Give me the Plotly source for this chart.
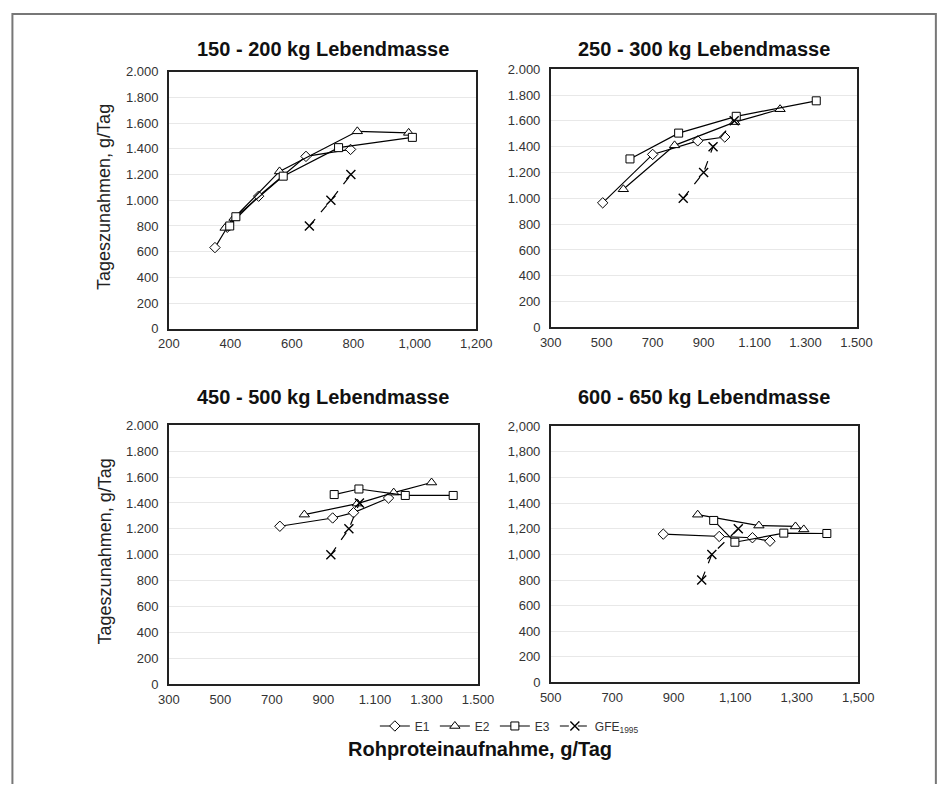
import plotly.graph_objects as go

# ---------------- data ----------------
titles = ["150 - 200 kg Lebendmasse", "250 - 300 kg Lebendmasse",
          "450 - 500 kg Lebendmasse", "600 - 650 kg Lebendmasse"]

# panel 1
p1_e1_x = [350, 390, 492, 646, 791]
p1_e1_y = [632, 790, 1032, 1342, 1396]
p1_e2_x = [383, 412, 560, 813, 980]
p1_e2_y = [785, 862, 1225, 1537, 1525]
p1_e3_x = [398, 418, 572, 752, 992]
p1_e3_y = [800, 872, 1188, 1410, 1490]
p1_gfe_x = [657, 727, 792]
p1_gfe_y = [800, 1000, 1200]

# panel 2
p2_e1_x = [504, 700, 877, 983]
p2_e1_y = [965, 1340, 1445, 1475]
p2_e2_x = [585, 786, 1022, 1200]
p2_e2_y = [1070, 1410, 1590, 1690]
p2_e3_x = [611, 802, 1028, 1342]
p2_e3_y = [1305, 1505, 1635, 1755]
p2_gfe_x = [820, 900, 937, 1020]
p2_gfe_y = [1000, 1200, 1400, 1600]

# panel 3
p3_e1_x = [731, 936, 1017, 1153]
p3_e1_y = [1220, 1284, 1325, 1438]
p3_e2_x = [826, 1032, 1173, 1320]
p3_e2_y = [1310, 1395, 1480, 1558]
p3_e3_x = [942, 1038, 1218, 1404]
p3_e3_y = [1465, 1508, 1458, 1458]
p3_gfe_x = [929, 999, 1040]
p3_gfe_y = [1000, 1200, 1400]

# panel 4
p4_e1_x = [866, 1048, 1156, 1213]
p4_e1_y = [1158, 1140, 1130, 1103]
p4_e2_x = [978, 1177, 1296, 1323]
p4_e2_y = [1310, 1225, 1218, 1195]
p4_e3_x = [1030, 1099, 1258, 1398]
p4_e3_y = [1265, 1095, 1166, 1163]
p4_gfe_x = [991, 1024, 1110]
p4_gfe_y = [800, 1000, 1200]

# ticks
y_vals = [0, 200, 400, 600, 800, 1000, 1200, 1400, 1600, 1800, 2000]
y_text_dot = ["0", "200", "400", "600", "800", "1.000", "1.200", "1.400", "1.600", "1.800", "2.000"]
y_text_comma = ["0", "200", "400", "600", "800", "1,000", "1,200", "1,400", "1,600", "1,800", "2,000"]
x1_vals = [200, 400, 600, 800, 1000, 1200]
x1_text = ["200", "400", "600", "800", "1,000", "1,200"]
x23_vals = [300, 500, 700, 900, 1100, 1300, 1500]
x23_text = ["300", "500", "700", "900", "1.100", "1.300", "1.500"]
x4_vals = [500, 700, 900, 1100, 1300, 1500]
x4_text = ["500", "700", "900", "1,100", "1,300", "1,500"]

series_names = ["E1", "E2", "E3", "GFE<sub>1995</sub>"]

# ---------------- figure ----------------
OFF = 8
W, H = 949 - 2 * OFF, 792 - 2 * OFF
FONT = "Liberation Sans, Arial, sans-serif"
TICK = 13


def fx(T):
    X = (T - 7.8) / 0.979
    return (X - OFF) / W


def fy(T):
    Y = (T - 5.0) / 0.985
    return 1 - (Y - OFF) / H


fig = go.Figure()

panels = [
    dict(data=[(p1_e1_x, p1_e1_y), (p1_e2_x, p1_e2_y), (p1_e3_x, p1_e3_y), (p1_gfe_x, p1_gfe_y)],
         xr=[200, 1200], xv=x1_vals, xt=x1_text, yt=y_text_dot,
         px=(166.7, 476.7), py=(70, 328), ty=47),
    dict(data=[(p2_e1_x, p2_e1_y), (p2_e2_x, p2_e2_y), (p2_e3_x, p2_e3_y), (p2_gfe_x, p2_gfe_y)],
         xr=[300, 1500], xv=x23_vals, xt=x23_text, yt=y_text_dot,
         px=(551.7, 860), py=(67.3, 326.7), ty=47),
    dict(data=[(p3_e1_x, p3_e1_y), (p3_e2_x, p3_e2_y), (p3_e3_x, p3_e3_y), (p3_gfe_x, p3_gfe_y)],
         xr=[300, 1500], xv=x23_vals, xt=x23_text, yt=y_text_dot,
         px=(166.7, 478.3), py=(425, 685), ty=397),
    dict(data=[(p4_e1_x, p4_e1_y), (p4_e2_x, p4_e2_y), (p4_e3_x, p4_e3_y), (p4_gfe_x, p4_gfe_y)],
         xr=[500, 1500], xv=x4_vals, xt=x4_text, yt=y_text_comma,
         px=(551.7, 861.7), py=(426, 683.3), ty=397),
]

symbols = ["diamond", "triangle-up", "square", "x-thin"]
sizes = [8, 9, 8, 9]

for i, p in enumerate(panels):
    n = "" if i == 0 else str(i + 1)
    for s, (xs, ys) in enumerate(p["data"]):
        is_gfe = s == 3
        marker = dict(symbol=symbols[s], size=sizes[s], color="white",
                      line=dict(color="black", width=1))
        if is_gfe:
            marker = dict(symbol="x-thin", size=9, color="black",
                          line=dict(color="black", width=1.4))
        fig.add_trace(go.Scatter(
            x=xs, y=ys, mode="lines+markers", name=series_names[s],
            xaxis="x" + n, yaxis="y" + n, showlegend=(i == 0),
            line=dict(color="black", width=1.2, dash="dash" if is_gfe else "solid"),
            marker=marker))
    x0, x1 = p["px"]
    y0, y1 = p["py"]
    xa = dict(domain=[fx(x0), fx(x1)], range=p["xr"], tickvals=p["xv"], ticktext=p["xt"],
              showgrid=False, zeroline=False, showline=True, mirror=True,
              linecolor="#222", linewidth=1.5, ticks="", anchor="y" + n,
              ticklabelstandoff=2,
              tickfont=dict(family=FONT, size=TICK, color="#333"))
    ya = dict(domain=[fy(y1), fy(y0)], range=[0, 2000], tickvals=y_vals, ticktext=p["yt"],
              showgrid=True, gridcolor="#e8e8e8", gridwidth=1, zeroline=False,
              showline=True, mirror=True, linecolor="#222", linewidth=1.5, ticks="",
              anchor="x" + n, ticklabelstandoff=6,
              tickfont=dict(family=FONT, size=TICK, color="#333"))
    fig.layout["xaxis" + n] = xa
    fig.layout["yaxis" + n] = ya
    fig.add_annotation(text="<b>" + titles[i] + "</b>", xref="paper", yref="paper",
                       x=fx((x0 + x1) / 2), y=fy(p["ty"]), xanchor="center", yanchor="middle",
                       showarrow=False, font=dict(family=FONT, size=20, color="#111"))
    if i in (0, 2):
        fig.add_annotation(text="Tageszunahmen, g/Tag", xref="paper", yref="paper",
                           x=fx(102), y=fy((y0 + y1) / 2 - 3), xanchor="center", yanchor="middle",
                           textangle=-90, showarrow=False,
                           font=dict(family=FONT, size=18, color="#222"))

fig.add_annotation(text="<b>Rohproteinaufnahme, g/Tag</b>", xref="paper", yref="paper",
                   x=fx(480), y=fy(750), xanchor="center", yanchor="middle", showarrow=False,
                   font=dict(family=FONT, size=20, color="#111"))

fig.add_shape(type="rect", xref="paper", yref="paper", x0=fx(9), x1=fx(940),
              y0=-0.05, y1=fy(12), line=dict(color="#777", width=2))

fig.update_layout(
    width=W, height=H, margin=dict(l=0, r=0, t=0, b=0),
    paper_bgcolor="white", plot_bgcolor="white",
    font=dict(family=FONT, color="#222"),
    legend=dict(orientation="h", x=fx(510), xanchor="center", y=fy(727), yanchor="middle",
                font=dict(family=FONT, size=12, color="#333"),
                tracegroupgap=0, bgcolor="rgba(0,0,0,0)"),
)

fig.write_html("out.html", config={"displayModeBar": False})
